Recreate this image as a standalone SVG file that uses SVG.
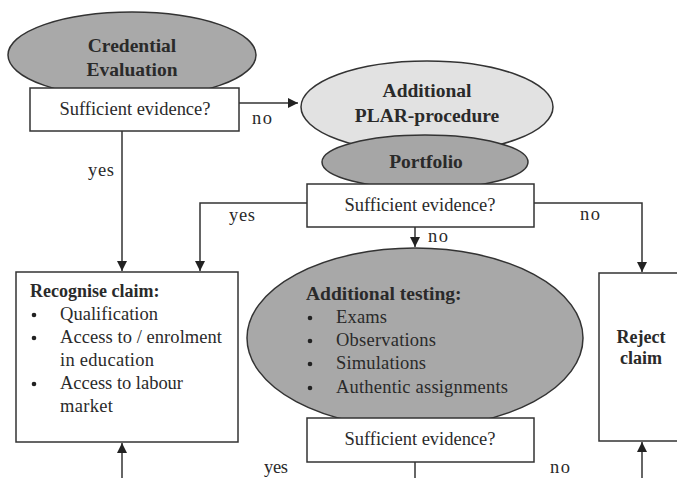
<svg xmlns="http://www.w3.org/2000/svg" width="677" height="478" viewBox="0 0 677 478">
<defs>
<marker id="arr" viewBox="0 0 10 10" refX="10" refY="5" markerWidth="10" markerHeight="10" markerUnits="userSpaceOnUse" orient="auto">
<path d="M0,0 L10,5 L0,10 z" fill="#222"/>
</marker>
<style>
.t{font-family:"Liberation Serif","Times New Roman",serif;font-size:18.5px;fill:#2a2a2a}
.b{font-family:"Liberation Serif","Times New Roman",serif;font-size:18px;font-weight:bold;fill:#2a2a2a}
.h{font-size:19.5px}
.m{text-anchor:middle}
.e{stroke:#333;stroke-width:1.5}
.box{fill:#fff;stroke:#333;stroke-width:1.5}
.c{fill:none;stroke:#333;stroke-width:1.5}
</style>
</defs>
<rect width="677" height="478" fill="#fff"/>
<g id="connectors">
<path class="c" d="M239,103 H298" marker-end="url(#arr)"/>
<path class="c" d="M122,131 V271" marker-end="url(#arr)"/>
<path class="c" d="M307,203 H200 V271" marker-end="url(#arr)"/>
<path class="c" d="M534,203 H642 V272" marker-end="url(#arr)"/>
<path class="c" d="M415,227 V247" marker-end="url(#arr)"/>
<path class="c" d="M415,462 V478"/>
<path class="c" d="M122,478 V443" marker-end="url(#arr)"/>
<path class="c" d="M642,478 V442" marker-end="url(#arr)"/>
<text class="t" x="252" y="124" textLength="20">no</text>
<text class="t" x="88" y="176" textLength="26">yes</text>
<text class="t" x="229" y="221" textLength="26">yes</text>
<text class="t" x="580" y="220" textLength="20">no</text>
<text class="t" x="428" y="242" textLength="20">no</text>
<text class="t" x="264" y="473" textLength="24">yes</text>
<text class="t" x="550" y="473" textLength="20">no</text>
</g>
<g id="credential">
<ellipse class="e" cx="132" cy="55" rx="124" ry="43" fill="#a9a9a9"/>
<text class="b h m" x="132" y="52">Credential</text>
<text class="b h m" x="132" y="76">Evaluation</text>
</g>
<g id="q1">
<rect class="box" x="30" y="88" width="209" height="43"/>
<text class="t m" x="135" y="115" textLength="151">Sufficient evidence?</text>
</g>
<g id="plar">
<ellipse class="e" cx="427" cy="107" rx="126" ry="46" fill="#e2e2e2"/>
<text class="b h m" x="427" y="97">Additional</text>
<text class="b h m" x="427" y="122">PLAR-procedure</text>
</g>
<g id="portfolio">
<ellipse class="e" cx="425" cy="162" rx="103" ry="27" fill="#a6a6a6"/>
<text class="b h m" x="426" y="168">Portfolio</text>
</g>
<g id="q2">
<rect class="box" x="307" y="184" width="227" height="43"/>
<text class="t m" x="420" y="211" textLength="151">Sufficient evidence?</text>
</g>
<g id="testing">
<ellipse class="e" cx="415" cy="338" rx="168" ry="90" fill="#a8a8a8"/>
<text class="b h" x="306" y="300">Additional testing:</text>
<circle cx="310" cy="318" r="2.3" fill="#222"/>
<text class="t" x="336" y="323" textLength="51">Exams</text>
<circle cx="310" cy="341" r="2.3" fill="#222"/>
<text class="t" x="336" y="346" textLength="100">Observations</text>
<circle cx="310" cy="364" r="2.3" fill="#222"/>
<text class="t" x="336" y="369" textLength="90">Simulations</text>
<circle cx="310" cy="388" r="2.3" fill="#222"/>
<text class="t" x="336" y="393" textLength="172">Authentic assignments</text>
</g>
<g id="q3">
<rect class="box" x="307" y="418" width="227" height="44"/>
<text class="t m" x="420" y="445" textLength="151">Sufficient evidence?</text>
</g>
<g id="recognise">
<rect class="box" x="16" y="272" width="222" height="170"/>
<text class="b" x="30" y="297">Recognise claim:</text>
<circle cx="34" cy="315" r="2.3" fill="#222"/>
<text class="t" x="60" y="320" textLength="98">Qualification</text>
<circle cx="34" cy="338" r="2.3" fill="#222"/>
<text class="t" x="60" y="343" textLength="162">Access to / enrolment</text>
<text class="t" x="60" y="366" textLength="94">in education</text>
<circle cx="34" cy="384" r="2.3" fill="#222"/>
<text class="t" x="60" y="389" textLength="123">Access to labour</text>
<text class="t" x="60" y="412" textLength="53">market</text>
</g>
<g id="reject">
<rect class="box" x="599" y="273" width="90" height="168"/>
<text class="b m" x="641" y="343">Reject</text>
<text class="b m" x="641" y="364">claim</text>
</g>
</svg>
